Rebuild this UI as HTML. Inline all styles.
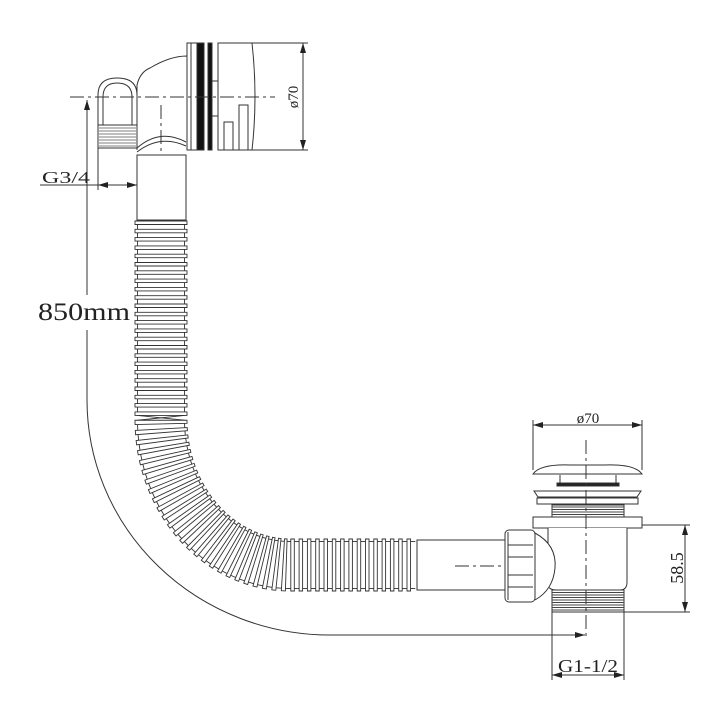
<!DOCTYPE html>
<html><head><meta charset="utf-8"><style>
html,body{margin:0;padding:0;background:#fff}
svg{display:block}
text{font-family:"Liberation Serif",serif;fill:#222}
</style></head><body>
<svg id="s" width="726" height="726" viewBox="0 0 726 726" xmlns="http://www.w3.org/2000/svg">
<defs>
<marker id="a" viewBox="0 0 10 6" refX="10" refY="3" markerWidth="10" markerHeight="6" orient="auto-start-reverse" markerUnits="userSpaceOnUse"><path d="M0,0 L10,3 L0,6 z" fill="#222"/></marker>
</defs>
<g fill="none" stroke="#333" stroke-width="1">
<path d="M137,150 L137,85 Q140,72 150,68 Q170,56 187,56 L187,150" fill="#fff"/>
<path d="M98,125 L98,95 Q98,78 117,78 Q137,78 137,95 L137,125" />
<path d="M103,125 L103,97 Q103,83 117,83 Q132,83 132,97 L132,125" />
<rect x="98" y="125" width="39" height="23" fill="#fff"/>
<g stroke="#555" stroke-width="0.8">
<line x1="99" y1="128" x2="136" y2="128"/><line x1="99" y1="131" x2="136" y2="131"/><line x1="99" y1="134" x2="136" y2="134"/><line x1="99" y1="137" x2="136" y2="137"/><line x1="99" y1="140" x2="136" y2="140"/><line x1="99" y1="143" x2="136" y2="143"/><line x1="99" y1="146" x2="136" y2="146"/>
</g>
<path d="M137,148 Q160,128 186,142" />
<path d="M137,152 Q160,134 186,146" />
<rect x="187" y="43" width="4" height="107"/>
<rect x="191" y="43" width="6" height="107"/>
<rect x="197" y="43" width="7" height="107" fill="#111"/>
<rect x="208" y="43" width="4" height="107" fill="#111"/>
<path d="M218,43 L252,43 Q258,97 252,150 L218,150 Z"/>
<line x1="212" y1="81" x2="218" y2="81"/><line x1="212" y1="116" x2="218" y2="116"/>
<path d="M224,150 L224,122 L233,122 L233,150"/>
<path d="M239,150 L239,105 L248,105 L248,150"/>
<line x1="252" y1="43" x2="308" y2="43"/><line x1="252" y1="150" x2="308" y2="150"/>
<line x1="303" y1="43" x2="303" y2="150" marker-start="url(#a)" marker-end="url(#a)"/>
<line x1="70" y1="97" x2="275" y2="97" stroke-dasharray="14,4,3,4"/>
<line x1="161" y1="105" x2="161" y2="200" stroke-dasharray="14,4,3,4"/>
<rect x="137" y="155" width="49" height="65" fill="#fff"/>
<line x1="40" y1="185" x2="98" y2="185"/>
<line x1="98" y1="185" x2="137" y2="185" marker-start="url(#a)" marker-end="url(#a)"/>
<line x1="98" y1="148" x2="98" y2="190"/>
<line x1="87" y1="100" x2="87" y2="295" marker-start="url(#a)"/>
<path d="M87,330 L87,400 A243,235 0 0 0 330,635 L585,635" marker-end="url(#a)"/>
<rect x="417" y="540" width="90" height="50" fill="#fff"/>
<line x1="455" y1="566" x2="600" y2="566" stroke-dasharray="14,4,3,4"/>
<line x1="533" y1="420" x2="533" y2="470"/><line x1="642" y1="420" x2="642" y2="470"/>
<line x1="533" y1="425" x2="642" y2="425" marker-start="url(#a)" marker-end="url(#a)"/>
<path d="M533,474 Q540,464 570,465 L605,465 Q635,464 642,474 Z" fill="#fff"/>
<path d="M560,475 L560,486 L616,486 L616,475" />
<rect x="557" y="483" width="62" height="3" fill="#222"/>
<path d="M534,491 L641,491 L637,497 L538,497 Z"/>
<rect x="537" y="498" width="101" height="6"/>
<rect x="552" y="505" width="72" height="12" fill="#fff"/>
<g stroke="#444" stroke-width="1"><line x1="552" y1="507" x2="624" y2="507"/><line x1="552" y1="509.5" x2="624" y2="509.5"/><line x1="552" y1="512" x2="624" y2="512"/><line x1="552" y1="514.5" x2="624" y2="514.5"/></g>
<rect x="533" y="517" width="109" height="11" fill="#fff"/>
<path d="M548,528 L548,586 Q550,590 556,590 L620,590 Q627,590 627,582 L627,528" fill="#fff"/>
<rect x="552" y="590" width="72" height="22" fill="#fff"/>
<g stroke="#444" stroke-width="1"><line x1="552" y1="592.5" x2="624" y2="592.5"/><line x1="552" y1="595" x2="624" y2="595"/><line x1="552" y1="597.5" x2="624" y2="597.5"/><line x1="552" y1="600" x2="624" y2="600"/><line x1="552" y1="602.5" x2="624" y2="602.5"/><line x1="552" y1="605" x2="624" y2="605"/><line x1="552" y1="607.5" x2="624" y2="607.5"/><line x1="552" y1="610" x2="624" y2="610"/></g>
<path d="M535,533 Q557,545 555,568 Q553,590 535,600" fill="#fff"/>
<rect x="505" y="530" width="30" height="72" rx="4" fill="#fff"/>
<line x1="508" y1="532" x2="508" y2="600"/>
<line x1="508" y1="545" x2="533" y2="545"/><line x1="508" y1="557" x2="533" y2="557"/><line x1="508" y1="575" x2="533" y2="575"/><line x1="508" y1="587" x2="533" y2="587"/>
<line x1="586" y1="440" x2="586" y2="640" stroke-dasharray="14,4,3,4"/>
<line x1="642" y1="525" x2="690" y2="525"/><line x1="624" y1="612" x2="690" y2="612"/>
<line x1="685" y1="525" x2="685" y2="612" marker-start="url(#a)" marker-end="url(#a)"/>
<line x1="552" y1="612" x2="552" y2="680"/><line x1="624" y1="612" x2="624" y2="680"/>
<line x1="552" y1="675" x2="624" y2="675" marker-start="url(#a)" marker-end="url(#a)"/>
<g id="ribs" stroke-width="0.9"></g>
</g>
<text x="42" y="183" font-size="17" textLength="48" lengthAdjust="spacingAndGlyphs">G3/4</text>
<text x="38" y="320" font-size="25" textLength="92" lengthAdjust="spacingAndGlyphs">850mm</text>
<text x="298" y="97" font-size="15" transform="rotate(-90 298 97)" text-anchor="middle">ø70</text>
<text x="588" y="423" font-size="15" text-anchor="middle">ø70</text>
<text x="683" y="568" font-size="18" transform="rotate(-90 683 568)" text-anchor="middle">58.5</text>
<text x="588" y="672" font-size="18" text-anchor="middle" textLength="60" lengthAdjust="spacingAndGlyphs">G1-1/2</text>
</svg>
<script>
(function(){
var g=document.getElementById('ribs');
var cx=290,cy=420,rx=129,ry=145;
function pt(s){
  var L1=420-220;
  if(s<L1) return [161,220+s,1,0];
  s-=L1;
  var arcL=Math.PI/2*(rx+ry)/2;
  if(s<arcL){var t=s/arcL*Math.PI/2;
    var x=cx-rx*Math.cos(t), y=cy+ry*Math.sin(t);
    var tx=rx*Math.sin(t), ty=ry*Math.cos(t); var l=Math.hypot(tx,ty);
    return [x,y,-ty/l,tx/l];}
  s-=arcL; return [cx+s,cy+ry,0,1];
}
var total=200+Math.PI/2*(rx+ry)/2+(417-290);
var out='',step=8.3,th=3.5;
for(var s=1;s<total-2;s+=step){
  var p=pt(s),q=pt(s+th);
  var h=26;
  var a=[p[0]-p[2]*h,p[1]-p[3]*h],b=[p[0]+p[2]*h,p[1]+p[3]*h],
      c=[q[0]+q[2]*h,q[1]+q[3]*h],d=[q[0]-q[2]*h,q[1]-q[3]*h];
  out+='<polygon points="'+a+' '+b+' '+c+' '+d+'" fill="#fff"/>';
  var r=pt(Math.min(s+step,total)),hh=23.5;
  out+='<line x1="'+(q[0]-q[2]*hh)+'" y1="'+(q[1]-q[3]*hh)+'" x2="'+(r[0]-r[2]*hh)+'" y2="'+(r[1]-r[3]*hh)+'"/>';
  out+='<line x1="'+(q[0]+q[2]*hh)+'" y1="'+(q[1]+q[3]*hh)+'" x2="'+(r[0]+r[2]*hh)+'" y2="'+(r[1]+r[3]*hh)+'"/>';
}
g.innerHTML=out;
})();
</script>
</body></html>
